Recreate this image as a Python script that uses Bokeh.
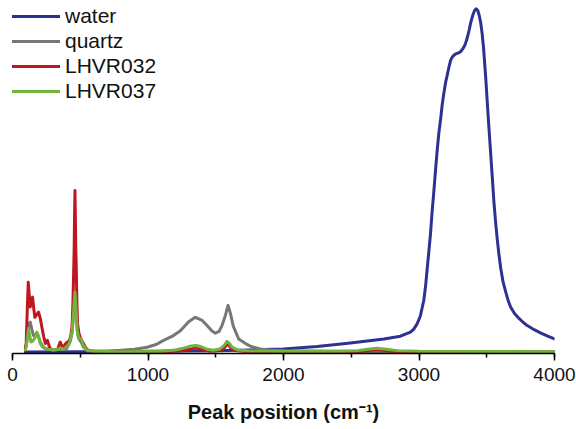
from bokeh.plotting import figure
from bokeh.models import Range1d, SingleIntervalTicker, Legend, LegendItem
from bokeh.embed import file_html
from bokeh.resources import INLINE

# ---- data ----
series_names = ["water", "quartz", "LHVR032", "LHVR037"]
series_colors = ["#2e3192", "#777777", "#c1161f", "#72b33e"]

water_x = [95, 500, 1000, 1500, 1755, 2001, 2248, 2494, 2741, 2863,
           2937, 2960, 2986, 3010, 3035, 3048, 3060, 3072, 3085, 3097,
           3110, 3122, 3134, 3147, 3160, 3171, 3183, 3196, 3210, 3222,
           3233, 3246, 3260, 3277, 3294, 3308, 3320, 3333, 3343, 3352,
           3362, 3371, 3380, 3390, 3400, 3411, 3422, 3434, 3445, 3456,
           3466, 3476, 3485, 3494, 3503, 3515, 3527, 3540, 3552, 3565,
           3577, 3590, 3602, 3620, 3640, 3658, 3676, 3705, 3740, 3770,
           3799, 3850, 3900, 3950, 4000]
water_y = [0.0, 0.001, 0.002, 0.004, 0.006, 0.009, 0.016, 0.026, 0.038, 0.046,
           0.058, 0.066, 0.082, 0.105, 0.150, 0.190, 0.240, 0.290, 0.345, 0.410,
           0.470, 0.530, 0.587, 0.640, 0.680, 0.720, 0.753, 0.785, 0.810, 0.832,
           0.850, 0.860, 0.866, 0.870, 0.872, 0.876, 0.882, 0.890, 0.899, 0.910,
           0.925, 0.940, 0.957, 0.972, 0.985, 0.996, 1.000, 0.995, 0.980, 0.958,
           0.928, 0.888, 0.840, 0.790, 0.733, 0.660, 0.590, 0.515, 0.442, 0.380,
           0.330, 0.285, 0.247, 0.205, 0.175, 0.150, 0.131, 0.112, 0.097, 0.086,
           0.077, 0.065, 0.055, 0.046, 0.038]

quartz_x = [95, 101, 110, 120, 131, 143, 155, 168, 180, 192,
            205, 220, 242, 300, 360, 400, 426, 440, 450, 456,
            461, 466, 470, 478, 487, 495, 505, 524, 549, 600,
            700, 800, 900, 993, 1060, 1115, 1180, 1239, 1300, 1349,
            1400, 1436, 1470, 1497, 1525, 1546, 1570, 1591, 1610, 1628,
            1669, 1731, 1760, 1830, 1900, 2000, 2300, 3000, 4000]
quartz_y = [0.010, 0.020, 0.050, 0.080, 0.087, 0.065, 0.048, 0.050, 0.054, 0.045,
            0.029, 0.018, 0.010, 0.006, 0.008, 0.010, 0.031, 0.057, 0.109, 0.147,
            0.171, 0.147, 0.109, 0.062, 0.040, 0.035, 0.030, 0.014, 0.004, 0.003,
            0.003, 0.005, 0.008, 0.014, 0.022, 0.034, 0.046, 0.062, 0.088, 0.101,
            0.092, 0.077, 0.062, 0.055, 0.060, 0.077, 0.105, 0.136, 0.110, 0.077,
            0.038, 0.022, 0.016, 0.009, 0.006, 0.004, 0.002, 0.001, 0.001]

lhvr032_x = [95, 101, 108, 116, 124, 131, 140, 148, 156, 165,
             178, 192, 205, 217, 230, 242, 250, 258, 268, 278,
             295, 315, 335, 352, 362, 372, 385, 397, 410, 421,
             431, 439, 445, 450, 455, 458, 461, 464, 467, 470,
             475, 480, 490, 500, 512, 524, 540, 561, 600, 700,
             900, 1100, 1250, 1300, 1350, 1400, 1450, 1500, 1550, 1570,
             1590, 1610, 1640, 1700, 1800, 2200, 2500, 2600, 2690, 2780,
             2900, 3200, 4000]
lhvr032_y = [0.010, 0.025, 0.110, 0.203, 0.165, 0.131, 0.150, 0.160, 0.130, 0.101,
             0.108, 0.116, 0.098, 0.072, 0.045, 0.025, 0.028, 0.034, 0.020, 0.010,
             0.005, 0.004, 0.010, 0.029, 0.020, 0.014, 0.020, 0.027, 0.030, 0.034,
             0.050, 0.072, 0.130, 0.208, 0.300, 0.400, 0.471, 0.390, 0.300, 0.258,
             0.150, 0.083, 0.055, 0.043, 0.032, 0.025, 0.012, 0.004, 0.002, 0.001,
             0.001, 0.001, 0.004, 0.007, 0.012, 0.007, 0.003, 0.003, 0.008, 0.015,
             0.025, 0.012, 0.004, 0.002, 0.001, 0.001, 0.001, 0.003, 0.007, 0.003,
             0.001, 0.0, 0.0]

lhvr037_x = [95, 101, 110, 118, 126, 136, 150, 168, 180, 192,
             205, 220, 242, 260, 300, 340, 352, 372, 397, 415,
             426, 440, 450, 456, 461, 466, 470, 478, 487, 495,
             505, 514, 524, 540, 561, 600, 800, 1100, 1200, 1270,
             1310, 1350, 1390, 1430, 1480, 1530, 1560, 1583, 1600, 1620,
             1660, 1750, 2000, 2400, 2550, 2620, 2690, 2760, 2840, 3000,
             4000]
lhvr037_y = [0.006, 0.014, 0.040, 0.069, 0.050, 0.029, 0.032, 0.043, 0.058, 0.045,
             0.025, 0.015, 0.010, 0.008, 0.006, 0.008, 0.012, 0.008, 0.014, 0.022,
             0.034, 0.060, 0.112, 0.150, 0.174, 0.150, 0.112, 0.065, 0.043, 0.038,
             0.039, 0.030, 0.019, 0.009, 0.004, 0.002, 0.001, 0.002, 0.006, 0.012,
             0.017, 0.019, 0.016, 0.009, 0.005, 0.009, 0.018, 0.031, 0.026, 0.014,
             0.006, 0.003, 0.002, 0.002, 0.004, 0.008, 0.011, 0.008, 0.004, 0.002,
             0.001]

x_label = "Peak position (cm\u207b\u00b9)"

FONT = "Liberation Sans"

p = figure(width=576, height=429, output_backend="svg", toolbar_location=None,
           x_range=Range1d(0, 4000), y_range=Range1d(-0.00437, 1.0245),
           y_axis_location=None,
           min_border_left=12, min_border_right=22, min_border_top=0,
           min_border_bottom=76)

p.background_fill_color = None
p.border_fill_color = "white"
p.outline_line_color = None
p.xgrid.visible = False
p.ygrid.visible = False

xs = [water_x, quartz_x, lhvr032_x, lhvr037_x]
ys = [water_y, quartz_y, lhvr032_y, lhvr037_y]
items = []
for name, color, x, y in zip(series_names, series_colors, xs, ys):
    r = p.line(x, y, line_color=color, line_width=3, line_join="round", line_cap="round")
    items.append(LegendItem(label=name, renderers=[r]))

legend = Legend(items=items, location=(-1, 250), border_line_color=None,
                background_fill_color=None, padding=0, margin=0, spacing=1,
                glyph_width=49, glyph_height=22, label_height=22,
                label_standoff=5, label_text_font=FONT,
                label_text_font_size="21px", label_text_color="#111111")
p.add_layout(legend)

ax = p.xaxis[0]
ax.ticker = SingleIntervalTicker(interval=1000, num_minor_ticks=2)
ax.axis_line_color = "black"
ax.axis_line_width = 1.5
ax.major_tick_line_color = "black"
ax.major_tick_line_width = 1.5
ax.major_tick_in = 0
ax.major_tick_out = 7
ax.minor_tick_line_color = "black"
ax.minor_tick_line_width = 1.5
ax.minor_tick_in = 0
ax.minor_tick_out = 4
ax.major_label_text_font = FONT
ax.major_label_text_font_size = "19px"
ax.major_label_text_color = "#111111"
ax.major_label_standoff = 7
ax.axis_label = x_label
ax.axis_label_text_font = FONT
ax.axis_label_text_font_size = "20px"
ax.axis_label_text_font_style = "bold"
ax.axis_label_text_color = "#111111"
ax.axis_label_standoff = 17

open("out.html", "w").write(file_html(p, INLINE))
